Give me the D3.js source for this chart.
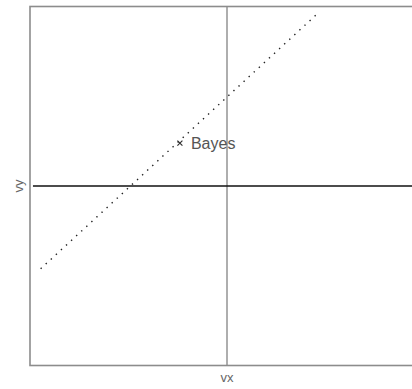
<!DOCTYPE html>
<html>
<head>
<meta charset="utf-8">
<script src="https://cdn.jsdelivr.net/npm/d3@7"></script>
<style>
  html, body { margin: 0; padding: 0; background: white; }
  svg { display: block; }
</style>
</head>
<body>
<svg width="412" height="389"></svg>
<script>
const xDomain = [-1, 1];
const yDomain = [-1, 1];
const decisionLine = [
  { vx: -0.946, vy: -0.461 },
  { vx: 0.455, vy: 0.956 },
];
const baseline = [
  { vx: -0.985, vy: 0 },
  { vx: 1, vy: 0 },
];
const bayesPoint = { vx: -0.239, vy: 0.239, label: 'Bayes' };
const axisLabels = { x: 'vx', y: 'vy' };

const width = 412;
const height = 389;

const xScale = d3.scaleLinear(xDomain, [30, 424]);
const yScale = d3.scaleLinear(yDomain, [365.5, 6.5]);

const line = d3.line()
  .x((d) => xScale(d.vx))
  .y((d) => yScale(d.vy));

const svg = d3.select('svg');

// frame
svg.append('rect')
  .attr('x', xScale(xDomain[0]))
  .attr('y', yScale(yDomain[1]))
  .attr('width', xScale(xDomain[1]) - xScale(xDomain[0]))
  .attr('height', yScale(yDomain[0]) - yScale(yDomain[1]))
  .attr('fill', 'none')
  .attr('stroke', '#8c8c8c')
  .attr('stroke-width', 1.6);

// vertical zero line
svg.append('line')
  .attr('x1', xScale(0))
  .attr('x2', xScale(0))
  .attr('y1', yScale(yDomain[0]))
  .attr('y2', yScale(yDomain[1]))
  .attr('stroke', '#8c8c8c')
  .attr('stroke-width', 1.4);

svg.append('path')
  .datum(baseline)
  .attr('d', line)
  .attr('fill', 'none')
  .attr('stroke', '#111')
  .attr('stroke-width', 1.6);

svg.append('path')
  .datum(decisionLine)
  .attr('d', line)
  .attr('fill', 'none')
  .attr('stroke', '#222')
  .attr('stroke-width', 1.4)
  .attr('stroke-dasharray', '1.4,5.5');

// bayes marker
const bx = xScale(bayesPoint.vx);
const by = yScale(bayesPoint.vy);
svg.append('path')
  .attr('d', `M${bx - 2.5},${by - 2.5}L${bx + 2.5},${by + 2.5}M${bx - 2.5},${by + 2.5}L${bx + 2.5},${by - 2.5}`)
  .attr('stroke', '#333')
  .attr('stroke-width', 1.2);

svg.append('text')
  .text(bayesPoint.label)
  .attr('x', bx + 11)
  .attr('y', by + 5.5)
  .attr('font-family', 'Liberation Sans, Arial, sans-serif')
  .attr('font-size', 16)
  .attr('fill', '#555');

svg.append('text')
  .text(axisLabels.x)
  .attr('x', xScale(0))
  .attr('y', 382)
  .attr('text-anchor', 'middle')
  .attr('font-family', 'Liberation Sans, Arial, sans-serif')
  .attr('font-size', 13)
  .attr('fill', '#666');

svg.append('text')
  .text(axisLabels.y)
  .attr('transform', `translate(23, ${yScale(0)}) rotate(-90)`)
  .attr('text-anchor', 'middle')
  .attr('font-family', 'Liberation Sans, Arial, sans-serif')
  .attr('font-size', 13)
  .attr('fill', '#666');
</script>
</body>
</html>
